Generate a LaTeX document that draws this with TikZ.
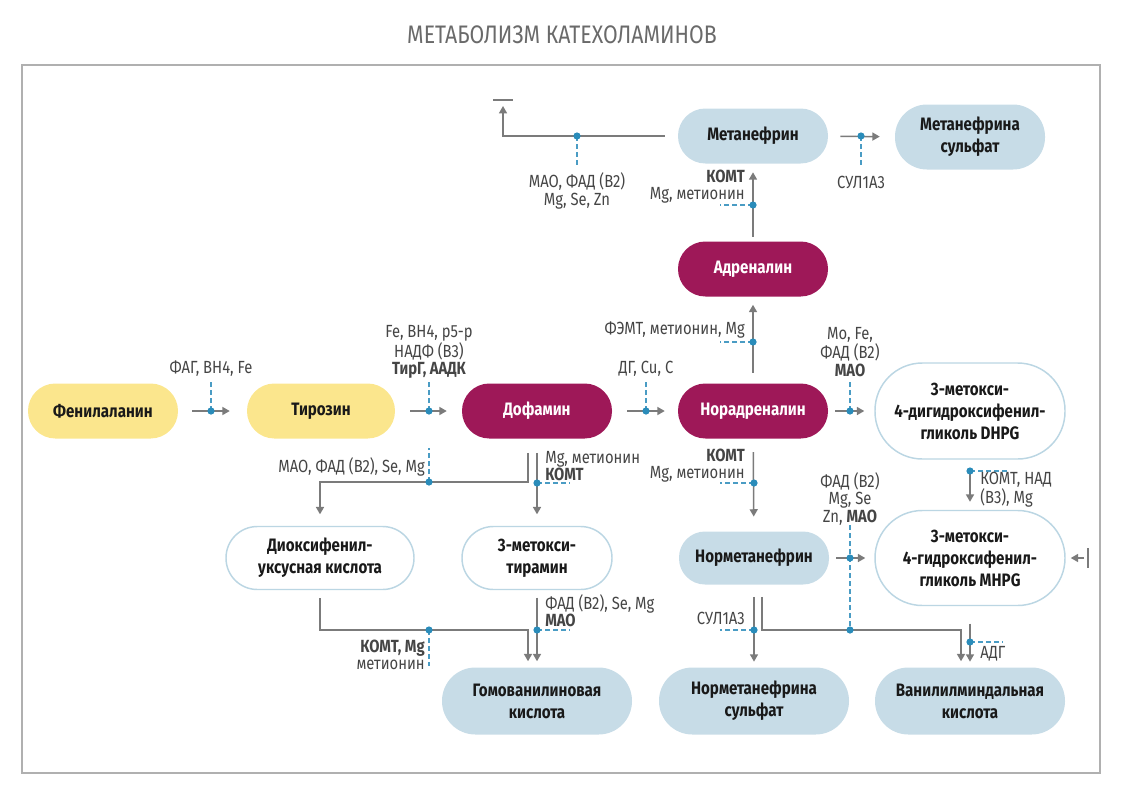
\documentclass[tikz,border=0pt]{standalone}
\usepackage{fontspec}
\setmainfont{Fira Sans}[FakeStretch=0.84]
\usetikzlibrary{arrows.meta,calc}
\definecolor{yel}{HTML}{FBE68D}
\definecolor{mag}{HTML}{9E1858}
\definecolor{lblue}{HTML}{C7DCE7}
\definecolor{bord}{HTML}{BBD6E3}
\definecolor{dotc}{HTML}{2A8CBA}
\definecolor{dshc}{HTML}{4A9CC4}
\definecolor{arrc}{HTML}{7B7B7B}
\definecolor{labc}{HTML}{454545}
\definecolor{titc}{HTML}{6A6A6A}
\definecolor{framec}{HTML}{B0B0B0}
\newcommand{\mynodefont}{\fontsize{13.5}{16.5}\selectfont\bfseries}
\newcommand{\mylabfont}{\fontsize{13.2}{12.9}\selectfont}
\tikzset{
  box/.style={inner sep=0pt, align=center, font=\mynodefont, text=black!90},
  sz/.style n args={3}{minimum width=#1, minimum height=#2, rounded corners=#3},
  yelbox/.style={box, fill=yel},
  magbox/.style={box, fill=mag, text=white},
  bluebox/.style={box, fill=lblue},
  whitebox/.style={box, fill=white, draw=bord, line width=1.1pt},
  arr/.style={arrc, line width=1.1pt, -{Triangle[length=5.5pt,width=6pt]}},
  ln/.style={arrc, line width=1.1pt},
  barline/.style={arrc, line width=2.2pt},
  dsh/.style={dshc, dashed, dash pattern=on 3.4pt off 2.6pt, line width=0.8pt},
  lab/.style={font=\mylabfont, text=labc, inner sep=0pt, align=center},
  labl/.style={lab, anchor=west, align=left},
  labr/.style={lab, anchor=east, align=right},
}
\newcommand{\dotat}[1]{\fill[dotc] (#1) circle (2.7pt);}
\begin{document}
\begin{tikzpicture}[x=0.75pt,y=-0.75pt]
\useasboundingbox (0,0) rectangle (1127,800);
\draw[framec, line width=1.1pt] (22,65) rectangle (1100,773);
\node[font=\fontsize{19}{22}\selectfont, text=titc] (title) at (562,35) {МЕТАБОЛИЗМ КАТЕХОЛАМИНОВ};

% nodes
\node[yelbox, sz={112.5pt}{41.25pt}{20.5pt}] (phe) at (103,411) {Фенилаланин};
\node[yelbox, sz={111pt}{41.25pt}{20.5pt}] (tyr) at (321,411) {Тирозин};
\node[magbox, sz={112.5pt}{41.25pt}{20.5pt}] (dop) at (537,411) {Дофамин};
\node[magbox, sz={112.5pt}{41.25pt}{20.5pt}] (nor) at (753,411) {Норадреналин};
\node[whitebox, sz={142.5pt}{72pt}{35.5pt}] (dhpg) at (970,411) {3-метокси-\\4-дигидроксифенил-\\гликоль DHPG};
\node[magbox, sz={112.5pt}{41.25pt}{20.5pt}] (adr) at (753,269) {Адреналин};
\node[bluebox, sz={112.5pt}{41.25pt}{20.5pt}] (met) at (753,136) {Метанефрин};
\node[bluebox, sz={112.5pt}{48.75pt}{24pt}] (mets) at (970,137) {Метанефрина\\сульфат};
\node[whitebox, sz={141pt}{47.25pt}{23.5pt}] (diox) at (320,558) {Диоксифенил-\\уксусная кислота};
\node[whitebox, sz={112.5pt}{47.25pt}{23.5pt}] (mtyr) at (537,558) {3-метокси-\\тирамин};
\node[bluebox, sz={112.5pt}{39.75pt}{19.5pt}] (norm) at (754,558) {Норметанефрин};
\node[whitebox, sz={142.5pt}{71.25pt}{35.5pt}] (mhpg) at (970,558) {3-метокси-\\4-гидроксифенил-\\гликоль MHPG};
\node[bluebox, sz={142.5pt}{50.25pt}{25pt}] (hva) at (537,701) {Гомованилиновая\\кислота};
\node[bluebox, sz={142.5pt}{50.25pt}{25pt}] (norms) at (754,701) {Норметанефрина\\сульфат};
\node[bluebox, sz={142.5pt}{50.25pt}{25pt}] (vma) at (970,701) {Ванилилминдальная\\кислота};

% coordinates
\coordinate (d1) at (211,411);
\coordinate (d2) at (429,411);
\coordinate (d3) at (646,411);
\coordinate (d4) at (850,411);
\coordinate (d5) at (753,342);
\coordinate (d6) at (753,205);
\coordinate (d7) at (861,136);
\coordinate (d8) at (577,136);
\coordinate (d9) at (429,482);
\coordinate (d10) at (537,483);
\coordinate (d11) at (429,630);
\coordinate (d12) at (537,630);
\coordinate (d13) at (754,483);
\coordinate (d14) at (850,558);
\coordinate (d15) at (754,630);
\coordinate (d16) at (850,630);
\coordinate (d17) at (970,642);
\coordinate (d18) at (970,471);
\coordinate (inh1) at (503,106);
\coordinate (inhbar1) at (503,100);
\coordinate (inh2) at (1088,558);
\coordinate (c1) at (320,482);
\coordinate (c2) at (528,630);
\coordinate (c3) at (961,630);

% dashed enzyme ticks
\draw[dsh] (d1) -- (211,381);
\draw[dsh] (d2) -- (429,381);
\draw[dsh] (d3) -- (646,381);
\draw[dsh] (d4) -- (850,381);
\draw[dsh] (d5) -- (720,342);
\draw[dsh] (d6) -- (720,205);
\draw[dsh] (d7) -- (861,166);
\draw[dsh] (d8) -- (577,166);
\draw[dsh] (d9) -- (429,448);
\draw[dsh] (d10) -- (570,483);
\draw[dsh] (d11) -- (429,666);
\draw[dsh] (d12) -- (570,630);
\draw[dsh] (d13) -- (720,483);
\draw[dsh] (850,525) -- (d16);
\draw[dsh] (d15) -- (720,630);
\draw[dsh] (d17) -- (1003,642);
\draw[dsh] (d18) -- (1008,471);

% connectors
\draw[arr, shorten <=10.5pt, shorten >=12.75pt] (phe) -- (tyr);
\draw[arr, shorten <=11.25pt, shorten >=11.25pt] (tyr) -- (dop);
\draw[arr, shorten <=11.25pt, shorten >=9.75pt] (dop) -- (nor);
\draw[arr, shorten <=5.25pt, shorten >=7.5pt] (nor) -- (dhpg);
\draw[arr, shorten <=8pt, shorten >=6pt] (nor) -- (adr);
\draw[arr, shorten <=3.4pt, shorten >=6.4pt] (adr) -- (met);
\draw[arr, shorten <=9pt, shorten >=11.25pt] (met) -- (mets);
\draw[arr, shorten <=9.75pt] (met.west) -| (inh1);
\draw[barline] ($(inhbar1)+(-10,0)$) -- ($(inhbar1)+(10,0)$);
\draw[arr, shorten >=8.6pt] ($(dop.south)+(-9,14)$) |- (c1) -- (diox);
\draw[arr, shorten <=10.5pt, shorten >=8.6pt] (dop) -- (mtyr);
\draw[arr] ($(diox.south)+(0,8)$) |- (c2) -- ($(hva.north)+(-9,-6)$);
\draw[arr, shorten <=5.6pt, shorten >=4.5pt] (mtyr) -- (hva);
\draw[arr, shorten <=10pt, shorten >=11pt] (nor) -- (norm);
\draw[arr, shorten <=5.25pt, shorten >=6.75pt] (norm) -- (mhpg);
\draw[arr, shorten <=9pt, shorten >=4.2pt] (norm) -- (norms);
\draw[arr] ($(norm.south)+(8,12)$) |- (c3) -- ($(vma.north)+(-9,-6)$);
\draw[arr, shorten <=13pt, shorten >=4.2pt] (mhpg) -- (vma);
\draw[arr, shorten <=8pt, shorten >=6pt] (dhpg) -- (mhpg);
\draw[barline] ($(inh2)+(0,-10)$) -- ($(inh2)+(0,10)$);
\draw[arr, shorten <=3pt, shorten >=3.75pt] (inh2) -- (mhpg.east);

% dots
\foreach \d in {d1,d2,d3,d4,d5,d6,d7,d8,d9,d10,d11,d12,d13,d14,d15,d16,d17,d18} {\dotat{\d}}

% labels
\node[lab] (l1) at (211,369) {ФАГ, BH4, Fe};
\node[lab] (l2) at (429,352) {Fe, BH4, p5-p\\НАДФ (B3)\\\textbf{ТирГ, ААДК}};
\node[lab] (l3) at (646,369) {ДГ, Cu, C};
\node[lab] (l4) at (850,352) {Mo, Fe,\\ФАД (B2)\\\textbf{МАО}};
\node[labr] (l5) at (745,330) {ФЭМТ, метионин, Mg};
\node[labr] (l6) at (745,187) {\textbf{КОМТ}\\Mg, метионин};
\node[lab] (l7) at (861,182) {СУЛ1А3};
\node[lab] (l8) at (577,191) {МАО, ФАД (B2)\\Mg, Se, Zn};
\node[labr] (l9) at (425,467) {МАО, ФАД (B2), Se, Mg};
\node[labl] (l10) at (545,466) {Mg, метионин\\\textbf{КОМТ}};
\node[labr] (l11) at (425,655) {\textbf{КОМТ, Mg}\\метионин};
\node[labl] (l12) at (545,611) {ФАД (B2), Se, Mg\\\textbf{МАО}};
\node[labr] (l13) at (745,466) {\textbf{КОМТ}\\Mg, метионин};
\node[lab] (l14) at (850,499) {ФАД (B2)\\Mg, Se\\Zn, \textbf{МАО}};
\node[labr] (l15) at (745,618) {СУЛ1А3};
\node[labl] (l16) at (980,654) {АДГ};
\node[labl] (l17) at (980,490) {КОМТ, НАД\\(B3), Mg};
\end{tikzpicture}
\end{document}
